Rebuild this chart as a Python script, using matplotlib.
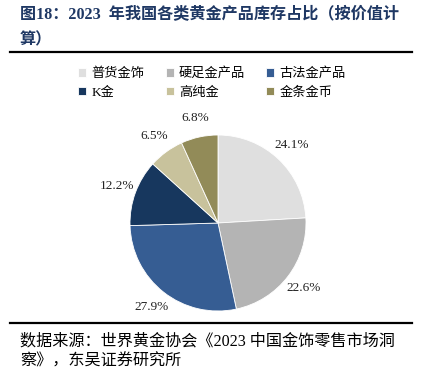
import matplotlib.pyplot as plt
from matplotlib.lines import Line2D

plt.rcParams['font.family'] = ['Liberation Serif', 'Noto Sans CJK SC']

# Data
labels = ['普货金饰', '硬足金产品', '古法金产品', 'K金', '高纯金', '金条金币']
shares = [24.1, 22.6, 27.9, 12.2, 6.5, 6.8]
colors = ['#DFDFDF', '#B4B4B4', '#365D93', '#17375E', '#C8C29C', '#928B58']

W, H = 421, 370
fig = plt.figure(figsize=(W / 100, H / 100), dpi=100)

# Title
title_color = '#1F3864'
fig.text(20 / W, 1 - 15 / H, '图18：2023  年我国各类黄金产品库存占比（按价值计',
         fontsize=11.6, fontweight='bold', color=title_color, va='center', ha='left')
fig.text(20 / W, 1 - 40 / H, '算）', fontsize=11.6, fontweight='bold',
         color=title_color, va='center', ha='left')

# Rules
fig.add_artist(Line2D([10 / W, 412 / W], [1 - 52 / H, 1 - 52 / H], color='black', lw=1.6))
fig.add_artist(Line2D([10 / W, 412 / W], [1 - 323 / H, 1 - 323 / H], color='black', lw=1.6))

# Pie
ax = fig.add_axes([130 / W, 1 - 311 / H, 176 / W, 176 / H])
wedges, texts, autotexts = ax.pie(
    shares, colors=colors, startangle=90, counterclock=False,
    autopct='%.1f%%', pctdistance=1.22,
    wedgeprops=dict(linewidth=0.6, edgecolor='white'),
    textprops=dict(fontsize=9.5, color='#222222'))
ax.set_xlim(-1, 1)
ax.set_ylim(-1, 1)
ax.set_aspect('equal')
for t in autotexts:
    t.set_clip_on(False)

# Legend (row-wise order for 3 columns)
order = [0, 3, 1, 4, 2, 5]
leg = fig.legend([wedges[i] for i in order], [labels[i] for i in order], ncol=3,
                 loc='center', bbox_to_anchor=(212 / W, 1 - 83 / H),
                 frameon=False, fontsize=9.5, handlelength=0.6, handleheight=0.6,
                 handletextpad=0.4, columnspacing=1.6, labelspacing=0.5)

# Footer
fig.text(20 / W, 1 - 341 / H, '数据来源：世界黄金协会《2023 中国金饰零售市场洞',
         fontsize=11.6, va='center', ha='left')
fig.text(20 / W, 1 - 362 / H, '察》，东吴证券研究所', fontsize=11.6, va='center', ha='left')

fig.savefig('out.png', dpi=100)
